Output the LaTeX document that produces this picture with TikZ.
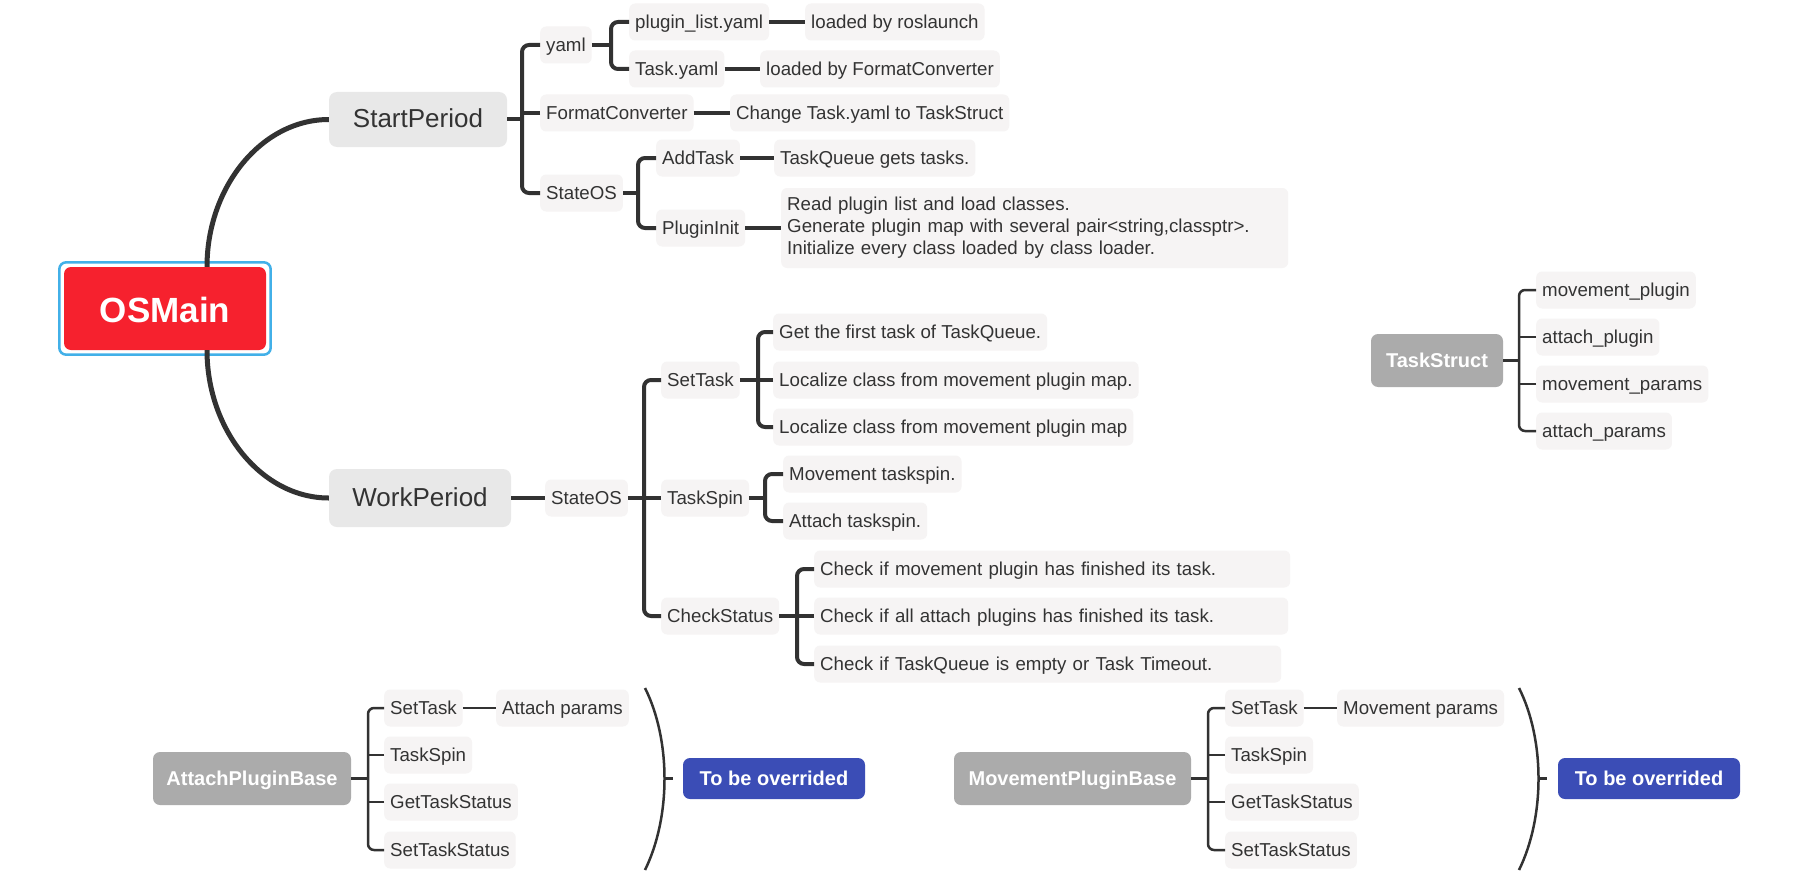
\documentclass[tikz,border=0pt]{standalone}
\usepackage{fontspec}
\setmainfont{Liberation Sans}
\usetikzlibrary{calc}
\definecolor{linec}{RGB}{50,50,50}
\definecolor{textc}{RGB}{51,51,51}
\definecolor{leaffill}{RGB}{246,244,244}
\definecolor{bigfill}{RGB}{232,232,232}
\definecolor{grayfill}{RGB}{171,171,171}
\definecolor{bluefill}{RGB}{59,77,182}
\definecolor{redfill}{RGB}{246,33,46}
\definecolor{osborder}{RGB}{66,176,232}
\begin{document}
\begin{tikzpicture}[x=1pt,y=-1pt,
  leafbase/.style={fill=leaffill, rounded corners=6pt, inner xsep=6pt, inner ysep=0pt, text=textc, anchor=west, font=\fontsize{18.7}{22}\selectfont},
  leaf/.style={leafbase, minimum height=37pt, text height=14pt, text depth=1pt},
  leafml/.style={leafbase, minimum height=80pt, text width=495pt, align=left},
  bignode/.style={fill=bigfill, rounded corners=8pt, inner sep=0pt, text=textc, anchor=center, font=\fontsize{26}{30}\selectfont, text height=18pt, text depth=1pt},
  rootnode/.style={fill=redfill, rounded corners=7pt, inner sep=0pt, text=white, anchor=center, font=\bfseries\fontsize{35}{40}\selectfont, minimum width=202pt, minimum height=83pt, text height=28pt, text depth=1pt},
  graynode/.style={fill=grayfill, rounded corners=7pt, inner sep=0pt, text=white, anchor=center, font=\bfseries\fontsize{20}{24}\selectfont, minimum height=53pt, text height=14pt, text depth=1pt},
  bluenode/.style={fill=bluefill, rounded corners=7pt, inner sep=0pt, text=white, anchor=center, font=\bfseries\fontsize{20}{24}\selectfont, minimum width=182pt, minimum height=41pt, text height=14pt, text depth=1pt},
  br/.style={draw=linec, line width=4pt, rounded corners=7pt},
  brt/.style={draw=linec, line width=2.5pt, rounded corners=6pt},
  mainc/.style={draw=linec, line width=5pt},
]
\fill[white] (0,0) rectangle (1795,872);
\useasboundingbox (0,0) rectangle (1795,872);

% ---------- root ----------
\node[rootnode] (os) at (165,308.5) {OSMain};
\draw[osborder, line width=2.5pt, rounded corners=7pt] ([shift={(-4.5,-4.5)}]os.north west) rectangle ([shift={(4.5,4.5)}]os.south east);

% ---------- StartPeriod ----------
\node[bignode, minimum width=178pt, minimum height=55pt] (sp) at (418,119.5) {StartPeriod};
\node[leaf] (yaml) at (540,45) {yaml};
\node[leaf] (plist) at (629,22) {plugin\_list.yaml};
\node[leaf] (lros) at (805,22) {loaded by roslaunch};
\node[leaf] (tyaml) at (629,69) {Task.yaml};
\node[leaf] (lfc) at (760,69) {loaded by FormatConverter};
\node[leaf] (fc) at (540,113) {FormatConverter};
\node[leaf] (chg) at (730,113) {Change Task.yaml to TaskStruct};
\node[leaf] (sosa) at (540,193) {StateOS};
\node[leaf] (addt) at (656,158) {AddTask};
\node[leaf] (tqg) at (774,158) {TaskQueue gets tasks.};
\node[leaf] (pinit) at (656,228) {PluginInit};
\node[leafml] (pinfo) at (781,228) {Read plugin list and load classes.\\Generate plugin map with several pair<string,classptr>.\\Initialize every class loaded by class loader.};

% ---------- WorkPeriod ----------
\node[bignode, minimum width=182pt, minimum height=58pt] (wp) at (420,498) {WorkPeriod};
\node[leaf] (sosb) at (545,498) {StateOS};
\node[leaf] (setk) at (661,380) {SetTask};
\node[leaf] (tspin) at (661,498) {TaskSpin};
\node[leaf] (chks) at (661,616) {CheckStatus};
\node[leaf] (gft) at (773,332) {Get the first task of TaskQueue.};
\node[leaf] (loca) at (773,380) {Localize class from movement plugin map.};
\node[leaf] (locb) at (773,427) {Localize class from movement plugin map};
\node[leaf] (mts) at (783,474) {Movement taskspin.};
\node[leaf] (ats) at (783,521) {Attach taskspin.};
\node[leaf, text width=464pt, align=left] (cka) at (814,569) {Check if movement plugin has finished its task.};
\node[leaf, text width=462pt, align=left] (ckb) at (814,616) {Check if all attach plugins has finished its task.};
\node[leaf, text width=455pt, align=left] (ckc) at (814,664) {Check if TaskQueue is empty or Task Timeout.};

% ---------- TaskStruct ----------
\node[graynode, minimum width=132pt] (ts) at (1437,360.5) {TaskStruct};
\node[leaf] (mpl) at (1536,290) {movement\_plugin};
\node[leaf] (apl) at (1536,337) {attach\_plugin};
\node[leaf] (mpar) at (1536,384) {movement\_params};
\node[leaf] (apar) at (1536,431) {attach\_params};

% ---------- AttachPluginBase ----------
\node[graynode, minimum width=198pt] (apb) at (252,778.5) {AttachPluginBase};
\node[leaf] (aa) at (384,708) {SetTask};
\node[leaf] (aprm) at (496,708) {Attach params};
\node[leaf] (ab) at (384,755) {TaskSpin};
\node[leaf] (ac) at (384,802) {GetTaskStatus};
\node[leaf] (ad) at (384,850) {SetTaskStatus};
\node[bluenode] (ova) at (774,778.5) {To be overrided};

% ---------- MovementPluginBase ----------
\node[graynode, minimum width=237pt] (mpb) at (1072.5,778.5) {MovementPluginBase};
\node[leaf] (ma) at (1225,708) {SetTask};
\node[leaf] (mprm) at (1337,708) {Movement params};
\node[leaf] (mb) at (1225,755) {TaskSpin};
\node[leaf] (mc) at (1225,802) {GetTaskStatus};
\node[leaf] (md) at (1225,850) {SetTaskStatus};
\node[bluenode] (ovb) at (1649,778.5) {To be overrided};

% ---------- spine coordinates ----------
\coordinate (s1) at ($(yaml.west)+(-18,0)$);
\coordinate (s2) at ($(plist.west)+(-18,0)$);
\coordinate (s3) at ($(addt.west)+(-18,0)$);
\coordinate (s4) at ($(setk.west)+(-17,0)$);
\coordinate (s5) at ($(gft.west)+(-15,0)$);
\coordinate (s6) at ($(mts.west)+(-18,0)$);
\coordinate (s7) at ($(cka.west)+(-17,0)$);
\coordinate (s8) at ($(mpl.west)+(-17,0)$);
\coordinate (s9) at ($(aa.west)+(-16,0)$);
\coordinate (s10) at ($(ma.west)+(-17,0)$);

% ---------- main curves ----------
\draw[mainc] ([xshift=42pt]os.north) .. controls +(0,-80) and +(-67,0) .. (sp.west);
\draw[mainc] ([xshift=42pt]os.south) .. controls +(0,80) and +(-67,0) .. (wp.west);

% ---------- StartPeriod branches ----------
\draw[br] (yaml.west) -- (s1) |- (sosa.west);
\draw[br] (sp.east) -- (sp.east -| s1);
\draw[br] (fc.west) -- (fc.west -| s1);
\draw[br] (plist.west) -- (s2) |- (tyaml.west);
\draw[br] (yaml.east) -- (yaml.east -| s2);
\draw[br] (plist.east) -- (lros.west);
\draw[br] (tyaml.east) -- (lfc.west);
\draw[br] (fc.east) -- (chg.west);
\draw[br] (addt.west) -- (s3) |- (pinit.west);
\draw[br] (sosa.east) -- (sosa.east -| s3);
\draw[br] (addt.east) -- (tqg.west);
\draw[br] (pinit.east) -- (pinfo.west);

% ---------- WorkPeriod branches ----------
\draw[br] (wp.east) -- (sosb.west);
\draw[br] (setk.west) -- (s4) |- (chks.west);
\draw[br] (sosb.east) -- (sosb.east -| s4);
\draw[br] (tspin.west) -- (tspin.west -| s4);
\draw[br] (gft.west) -- (s5) |- (locb.west);
\draw[br] (setk.east) -- (setk.east -| s5);
\draw[br] (loca.west) -- (loca.west -| s5);
\draw[br] (mts.west) -- (s6) |- (ats.west);
\draw[br] (tspin.east) -- (tspin.east -| s6);
\draw[br] (cka.west) -- (s7) |- (ckc.west);
\draw[br] (chks.east) -- (chks.east -| s7);
\draw[br] (ckb.west) -- (ckb.west -| s7);

% ---------- TaskStruct branches ----------
\draw[brt] (mpl.west) -- (s8) |- (apar.west);
\draw[brt] (ts.east) -- (ts.east -| s8);
\draw[brt] (apl.west) -- (apl.west -| s8);
\draw[brt] (mpar.west) -- (mpar.west -| s8);

% ---------- AttachPluginBase branches ----------
\draw[brt] (aa.west) -- (s9) |- (ad.west);
\draw[brt] (apb.east) -- (apb.east -| s9);
\draw[brt] (ab.west) -- (ab.west -| s9);
\draw[brt] (ac.west) -- (ac.west -| s9);
\draw[brt] (aa.east) -- (aprm.west);
\draw[brt] (645,688) .. controls (671,740) and (671,817) .. (645,870);
\coordinate (ta) at (663.5,778.5);
\draw[brt] (ta) -- ++(9,0);

% ---------- MovementPluginBase branches ----------
\draw[brt] (ma.west) -- (s10) |- (md.west);
\draw[brt] (mpb.east) -- (mpb.east -| s10);
\draw[brt] (mb.west) -- (mb.west -| s10);
\draw[brt] (mc.west) -- (mc.west -| s10);
\draw[brt] (ma.east) -- (mprm.west);
\draw[brt] (1519,688) .. controls (1545,740) and (1545,817) .. (1519,870);
\coordinate (tb) at (1537.5,778.5);
\draw[brt] (tb) -- ++(9,0);
\end{tikzpicture}
\end{document}
